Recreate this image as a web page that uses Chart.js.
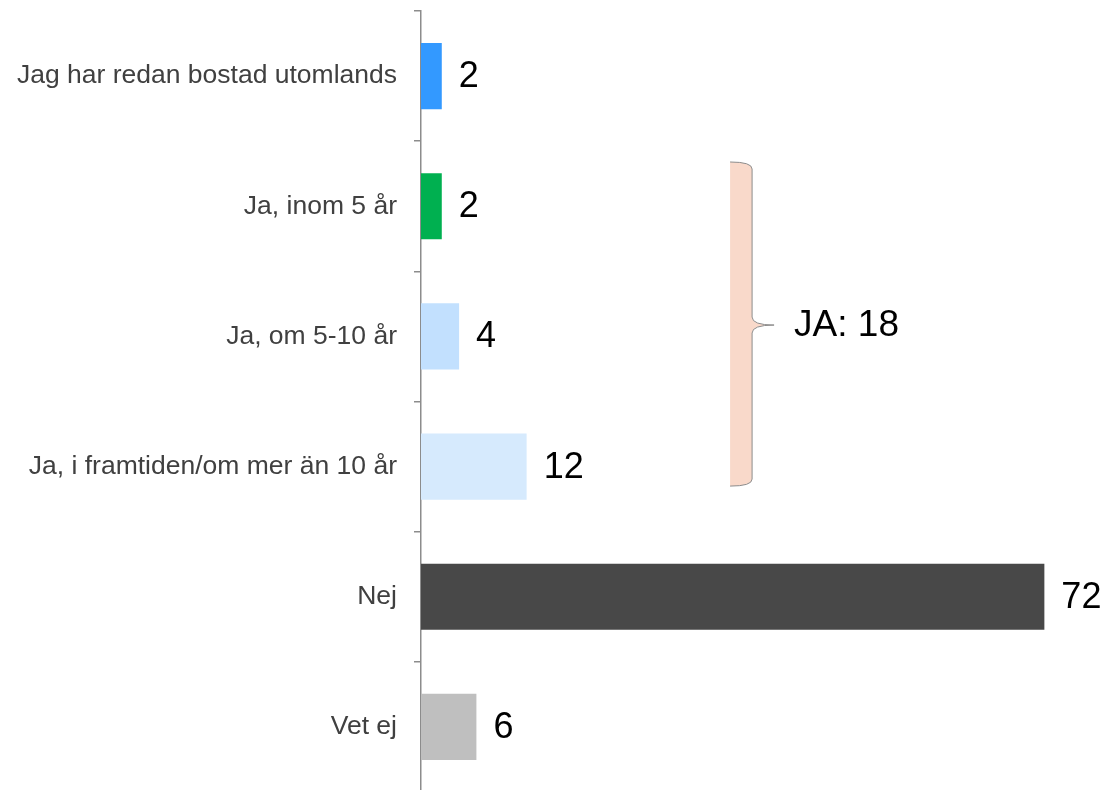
<!DOCTYPE html>
<html>
<head>
<meta charset="utf-8">
<script src="https://cdn.jsdelivr.net/npm/chart.js@4"></script>
<style>
  html, body { margin: 0; padding: 0; background: #fff; overflow: hidden; }
  #wrap { width: 1111px; height: 792px; position: relative; }
</style>
</head>
<body>
<div id="wrap"><canvas id="chart"></canvas></div>
<script>
// answers, top to bottom
const categories = [
  "Jag har redan bostad utomlands",
  "Ja, inom 5 år",
  "Ja, om 5-10 år",
  "Ja, i framtiden/om mer än 10 år",
  "Nej",
  "Vet ej"
];
const values = [2.4, 2.4, 4.4, 12.2, 72, 6.4]; // bar lengths
const valueLabels = ["2", "2", "4", "12", "72", "6"];
const barColors = ["#3399FF", "#00B050", "#C2E0FE", "#D6EAFD", "#484848", "#BFBFBF"];

// the brace next to the "Ja" answers
const braceText = "JA: 18";
const braceFrom = 0.66; // category index where the brace starts
const braceTo = 3.15;   // ... and ends
const braceX = 35.7;    // value on x scale

const FONT = "'Liberation Sans', Arial, sans-serif";

const valueLabelPlugin = {
  id: "valueLabels",
  afterDatasetsDraw(chart) {
    const ctx = chart.ctx;
    const meta = chart.getDatasetMeta(0);
    ctx.save();
    ctx.font = "36px " + FONT;
    ctx.fillStyle = "#000";
    ctx.textBaseline = "middle";
    meta.data.forEach((bar, i) => {
      ctx.fillText(valueLabels[i], bar.x + 17, bar.y + 1);
    });
    ctx.restore();
  }
};

const bracePlugin = {
  id: "brace",
  afterDatasetsDraw(chart) {
    const ctx = chart.ctx;
    const x = chart.scales.x, y = chart.scales.y;
    const top = y.getPixelForValue(braceFrom);
    const bot = y.getPixelForValue(braceTo);
    const left = x.getPixelForValue(braceX);
    const right = left + 22;
    const mid = (top + bot) / 2 + 1;
    const tip = right + 22;

    ctx.save();
    ctx.beginPath();
    ctx.moveTo(left, top);
    ctx.quadraticCurveTo(right, top, right, top + 7);
    ctx.lineTo(right, mid - 8);
    ctx.quadraticCurveTo(right, mid, tip, mid);
    ctx.quadraticCurveTo(right, mid, right, mid + 8);
    ctx.lineTo(right, bot - 7);
    ctx.quadraticCurveTo(right, bot, left, bot);
    ctx.fillStyle = "#F9D9CA";
    ctx.fill();
    ctx.strokeStyle = "#8C8C8C";
    ctx.lineWidth = 1;
    ctx.stroke();

    ctx.font = "37px " + FONT;
    ctx.fillStyle = "#000";
    ctx.textBaseline = "middle";
    ctx.fillText(braceText, tip + 20, mid + 1);
    ctx.restore();
  }
};

new Chart(document.getElementById("chart"), {
  type: "bar",
  data: {
    labels: categories,
    datasets: [{
      data: values,
      backgroundColor: barColors,
      borderWidth: 0,
      categoryPercentage: 1,
      barPercentage: 0.508
    }]
  },
  options: {
    indexAxis: "y",
    responsive: true,
    maintainAspectRatio: false,
    animation: false,
    layout: { padding: { top: 11, right: 32, bottom: 0, left: 0 } },
    plugins: {
      legend: { display: false },
      tooltip: { enabled: false }
    },
    scales: {
      x: {
        display: false,
        min: 0,
        max: 76
      },
      y: {
        afterFit(scale) {
          scale.width = 421;
          scale.paddingTop = 0;
          scale.paddingBottom = 0;
        },
        border: { display: true, color: "#8C8C8C", width: 1.5 },
        grid: {
          offset: true,
          drawOnChartArea: false,
          drawTicks: true,
          tickLength: 7,
          color: "#8C8C8C",
          lineWidth: 1.5
        },
        ticks: {
          color: "#404040",
          padding: 17,
          font: { size: 26.5, family: FONT }
        }
      }
    }
  },
  plugins: [valueLabelPlugin, bracePlugin]
});
</script>
</body>
</html>
